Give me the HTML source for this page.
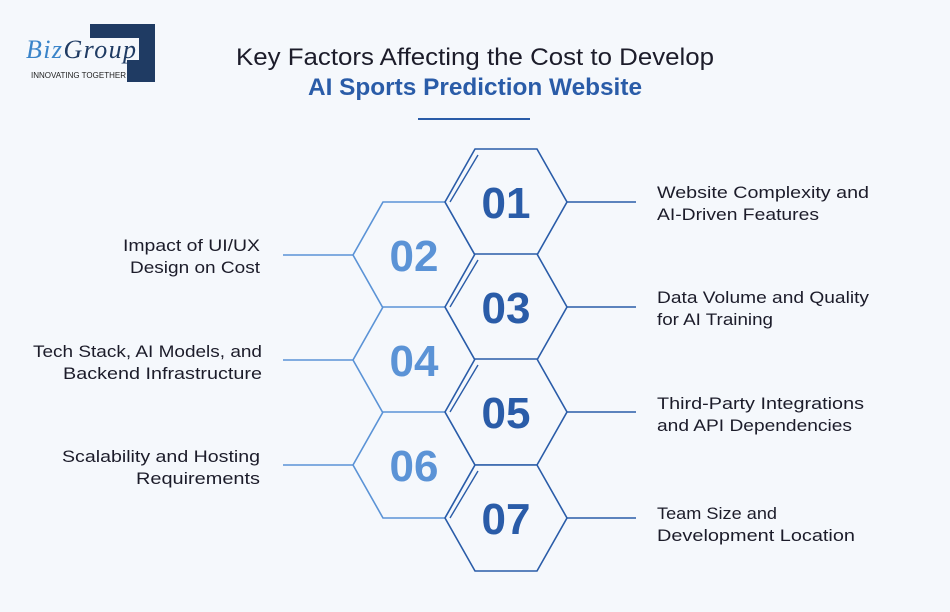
<!DOCTYPE html>
<html><head><meta charset="utf-8"><style>
html,body{margin:0;padding:0;background:#f5f8fc;}
svg{display:block;font-family:"Liberation Sans",sans-serif;}
</style></head><body>
<svg width="950" height="612" viewBox="0 0 950 612">
<rect width="950" height="612" fill="#f5f8fc"/>
<!-- logo -->
<path d="M90 24 H155 V82 H127 V60 H139 V38 H90 Z" fill="#1f3b63"/>
<text x="26" y="58" font-family="Liberation Serif,serif" font-style="italic" font-size="26" fill="#3a84c9" textLength="110">Biz<tspan fill="#1f3b63">Group</tspan></text>
<text x="31" y="78" font-size="8" fill="#222">INNOVATING TOGETHER</text>
<!-- title -->
<text x="236" y="65" font-size="24" fill="#1c1c2a" textLength="478" lengthAdjust="spacingAndGlyphs">Key Factors Affecting the Cost to Develop</text>
<text x="308" y="95" font-size="24" font-weight="bold" fill="#2a5ca8" textLength="334" lengthAdjust="spacingAndGlyphs">AI Sports Prediction Website</text>
<rect x="418" y="118" width="112" height="2" fill="#2a5ca8"/>
<!-- connector lines -->
<g stroke-width="1.6">
<line x1="567" y1="202" x2="636" y2="202" stroke="#2a5ca8"/>
<line x1="567" y1="307" x2="636" y2="307" stroke="#2a5ca8"/>
<line x1="567" y1="412" x2="636" y2="412" stroke="#2a5ca8"/>
<line x1="567" y1="518" x2="636" y2="518" stroke="#2a5ca8"/>
<line x1="283" y1="255" x2="353" y2="255" stroke="#5b93d6"/>
<line x1="283" y1="360" x2="353" y2="360" stroke="#5b93d6"/>
<line x1="283" y1="465" x2="353" y2="465" stroke="#5b93d6"/>
</g>
<!-- left hexes -->
<g fill="#f5f8fc" stroke="#5b93d6" stroke-width="1.6">
<polygon points="383,202 445,202 475,255 445,308 383,308 353,255"/>
<polygon points="383,307 445,307 475,360 445,413 383,413 353,360"/>
<polygon points="383,412 445,412 475,465 445,518 383,518 353,465"/>
</g>
<!-- right hexes -->
<g fill="#f5f8fc" stroke="#2a5ca8" stroke-width="1.6">
<polygon points="475,149 537,149 567,202 537,255 475,255 445,202"/>
<polygon points="475,254 537,254 567,307 537,360 475,360 445,307"/>
<polygon points="475,359 537,359 567,412 537,465 475,465 445,412"/>
<polygon points="475,465 537,465 567,518 537,571 475,571 445,518"/>
</g>
<g fill="none" stroke="#2a5ca8" stroke-width="1.4">
<polyline points="478,155 450,202"/>
<polyline points="478,260 450,307"/>
<polyline points="478,365 450,412"/>
<polyline points="478,471 450,518"/>
</g>
<!-- numbers -->
<g font-size="44" font-weight="bold" text-anchor="middle">
<text x="506" y="218" fill="#2a5ca8">01</text>
<text x="414" y="271" fill="#5b93d6">02</text>
<text x="506" y="323" fill="#2a5ca8">03</text>
<text x="414" y="376" fill="#5b93d6">04</text>
<text x="506" y="428" fill="#2a5ca8">05</text>
<text x="414" y="481" fill="#5b93d6">06</text>
<text x="506" y="534" fill="#2a5ca8">07</text>
</g>
<!-- labels -->
<g font-size="17" fill="#1c1c2a">
<text x="657" y="198" textLength="212" lengthAdjust="spacingAndGlyphs">Website Complexity and</text>
<text x="657" y="220" textLength="162" lengthAdjust="spacingAndGlyphs">AI-Driven Features</text>
<text x="657" y="303" textLength="212" lengthAdjust="spacingAndGlyphs">Data Volume and Quality</text>
<text x="657" y="325" textLength="116" lengthAdjust="spacingAndGlyphs">for AI Training</text>
<text x="657" y="409" textLength="207" lengthAdjust="spacingAndGlyphs">Third-Party Integrations</text>
<text x="657" y="431" textLength="195" lengthAdjust="spacingAndGlyphs">and API Dependencies</text>
<text x="657" y="519" textLength="120" lengthAdjust="spacingAndGlyphs">Team Size and</text>
<text x="657" y="541" textLength="198" lengthAdjust="spacingAndGlyphs">Development Location</text>
<text x="123" y="251" textLength="137" lengthAdjust="spacingAndGlyphs">Impact of UI/UX</text>
<text x="130" y="273" textLength="130" lengthAdjust="spacingAndGlyphs">Design on Cost</text>
<text x="33" y="357" textLength="229" lengthAdjust="spacingAndGlyphs">Tech Stack, AI Models, and</text>
<text x="63" y="379" textLength="199" lengthAdjust="spacingAndGlyphs">Backend Infrastructure</text>
<text x="62" y="462" textLength="198" lengthAdjust="spacingAndGlyphs">Scalability and Hosting</text>
<text x="136" y="484" textLength="124" lengthAdjust="spacingAndGlyphs">Requirements</text>
</g>
</svg>
</body></html>
